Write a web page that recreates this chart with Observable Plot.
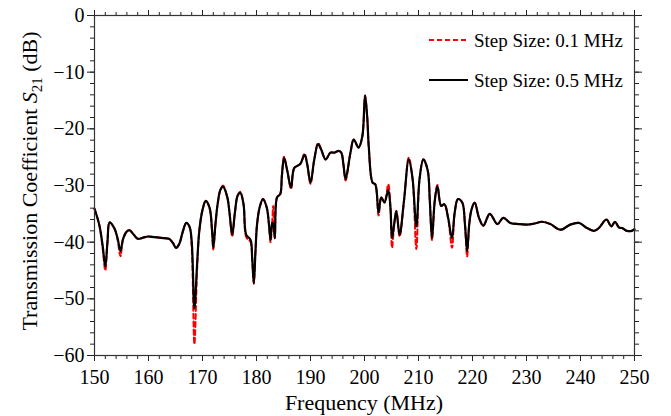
<!DOCTYPE html>
<html><head><meta charset="utf-8">
<script src="https://cdn.jsdelivr.net/npm/d3@7"></script>
<script src="https://cdn.jsdelivr.net/npm/@observablehq/plot@0.6"></script>
<style>
html,body{margin:0;padding:0;background:#fff}
svg, svg text { font-family: "Liberation Serif", "Times New Roman", Times, "DejaVu Serif", serif !important; }
</style>
</head><body><div id="chart"></div>
<script>
// Frequency samples (MHz)
const freq = [
  150,150.9,151.5,152.0,152.4,152.8,153.7,154.3,154.8,155.3,
  156.0,156.5,157.2,158.0,159.0,159.9,161.0,162.0,163.0,163.8,
  164.5,165.1,165.7,166.3,167.0,167.6,168.0,168.5,169.0,169.4,
  170.0,170.6,171.3,171.8,172.0,172.4,172.8,173.3,173.8,174.6,
  175.0,175.5,176.0,176.5,177.0,177.6,178.1,178.9,179.2,179.5,
  179.8,180.1,180.6,181.2,181.9,182.3,182.6,182.9,183.1,183.4,
  183.8,184.4,184.7,185.1,185.7,186.4,187.0,188.1,188.9,189.4,
  190.0,190.7,191.4,192.0,192.8,193.7,194.4,195.2,195.7,196.1,
  196.5,197.4,198.0,198.9,199.6,200.1,200.5,200.8,201.5,202.0,
  202.6,203.1,203.7,204.4,204.8,205.1,205.5,205.9,206.5,207.3,
  208.2,208.9,209.6,210.2,210.9,211.7,212.1,212.5,213.0,213.5,
  214.2,214.8,215.5,216.2,216.7,217.3,218.1,218.6,219.0,219.4,
  219.8,220.4,221.2,222.0,223.2,224.6,225.7,227.0,228.5,230.1,
  231.5,232.9,234.4,236.3,238.1,239.7,241.2,242.5,243.4,244.8,
  245.7,246.4,247.1,247.7,248.6,249.5,250
];
// S21 (dB), step size 0.5 MHz (black solid)
const s21Step05 = [
  -34.1,-37,-40.5,-44.3,-40,-36.5,-37.6,-39.4,-41.6,-39.4,
  -38.1,-37.9,-38.6,-39.4,-39.2,-39.0,-39.1,-39.2,-39.3,-39.4,
  -40.1,-41.0,-40.3,-38.3,-36.6,-37.3,-39.8,-51.7,-43.8,-38.1,
  -34.3,-32.7,-33.9,-38.3,-41.0,-36.8,-33.3,-30.8,-30.2,-32.1,
  -34.8,-38.7,-34.8,-31.8,-31.3,-33.3,-38.7,-39.6,-42.8,-47.3,
  -41.8,-36.9,-33.8,-32.4,-33.9,-36.8,-39.6,-36.6,-36.8,-39.3,
  -32.1,-31.5,-28.3,-25.1,-27.4,-30.4,-26.9,-26.2,-24.6,-26.3,
  -29.5,-25.4,-22.7,-23.7,-25.4,-24.2,-24.2,-23.9,-24.2,-26.3,
  -28.9,-24.2,-21.9,-23.3,-21.3,-14.1,-17.9,-23.3,-29.5,-29.8,
  -34.8,-32.1,-33.0,-30.8,-33.8,-39.3,-36.8,-34.5,-38.7,-32.8,
  -25.4,-28.8,-37.2,-28.8,-25.4,-27.3,-32.8,-39.3,-32.8,-30.1,
  -33.6,-33.3,-35.8,-39.3,-34.8,-32.4,-33.0,-36.8,-41.6,-36.8,
  -34.3,-33.0,-35.7,-37.1,-35.0,-36.8,-35.7,-36.6,-36.8,-36.9,
  -36.7,-36.4,-36.8,-37.8,-36.9,-36.6,-37.5,-38.0,-37.5,-36.0,
  -37.2,-36.4,-37.4,-37.5,-38.0,-38.0,-37.7
];
// S21 (dB), step size 0.1 MHz (red dashed)
const s21Step01 = [
  -34.1,-37,-41.0,-45.0,-40,-36.5,-37.6,-39.7,-42.5,-39.4,
  -38.1,-37.9,-38.6,-39.4,-39.2,-39.0,-39.1,-39.2,-39.3,-39.4,
  -40.1,-41.0,-40.3,-38.3,-36.6,-37.3,-40.8,-58.0,-44.8,-38.1,
  -34.3,-32.7,-33.9,-38.6,-41.3,-36.8,-33.3,-30.8,-30.0,-32.1,
  -34.8,-39.0,-34.8,-31.8,-31.1,-33.3,-39.1,-40.0,-42.8,-47.3,
  -41.8,-36.9,-33.8,-32.4,-33.9,-36.8,-40.0,-36.6,-33.6,-39.3,
  -32.1,-31.5,-28.3,-24.9,-27.4,-30.6,-26.9,-26.2,-24.4,-26.3,
  -29.7,-25.4,-22.5,-23.7,-25.4,-24.2,-24.2,-23.9,-24.2,-26.3,
  -29.1,-24.2,-21.9,-23.3,-21.3,-14.1,-17.9,-23.3,-29.5,-29.8,
  -35.3,-32.1,-33.0,-29.8,-33.8,-41.0,-36.8,-34.5,-39.0,-32.8,
  -25.1,-28.8,-41.2,-28.8,-25.4,-27.3,-32.8,-39.6,-32.8,-29.9,
  -33.6,-33.3,-35.8,-41.0,-34.8,-32.4,-33.0,-36.8,-42.5,-36.8,
  -34.3,-33.0,-35.7,-37.1,-35.0,-36.8,-35.7,-36.6,-36.8,-36.9,
  -36.7,-36.4,-36.8,-37.8,-36.9,-36.6,-37.5,-38.0,-37.5,-36.0,
  -37.2,-36.4,-37.4,-37.5,-38.0,-38.0,-37.7
];
const xTicks = [150,160,170,180,190,200,210,220,230,240,250];
const yTicks = [0,-10,-20,-30,-40,-50,-60];
const xMinor = [150,152,154,156,158,160,162,164,166,168,170,172,174,176,178,180,182,184,186,188,190,192,194,196,198,200,202,204,206,208,210,212,214,216,218,220,222,224,226,228,230,232,234,236,238,240,242,244,246,248,250];
const yMinor = [0,-2,-4,-6,-8,-10,-12,-14,-16,-18,-20,-22,-24,-26,-28,-30,-32,-34,-36,-38,-40,-42,-44,-46,-48,-50,-52,-54,-56,-58,-60];
const seriesNames = ["Step Size: 0.1 MHz", "Step Size: 0.5 MHz"];
const seriesColors = ["#ff0000", "#000000"];
const xTitle = "Frequency (MHz)";

const fine = freq.map((f, i) => ({f, s: s21Step01[i]}));
const coarse = freq.map((f, i) => ({f, s: s21Step05[i]}));
const fmt = d => d < 0 ? "\u2212" + Math.abs(d) : String(d);
const blank = () => "";

const plot = Plot.plot({
  width: 671, height: 416,
  marginLeft: 94, marginRight: 37, marginTop: 15, marginBottom: 61,
  style: {fontSize: "20px", background: "#fff", color: "#222"},
  x: {domain: [150, 250]},
  y: {domain: [-60, 0]},
  marks: [
    Plot.axisX({anchor: "bottom", ticks: xMinor, tickSize: 4, tickFormat: blank, label: null}),
    Plot.axisX({anchor: "bottom", ticks: xTicks, tickSize: 6, tickPadding: 8, tickFormat: d => String(d), label: null, fill: "#000"}),
    Plot.axisX({anchor: "top", ticks: xMinor, tickSize: 4, tickFormat: blank, label: null}),
    Plot.axisX({anchor: "top", ticks: xTicks, tickSize: 6, tickFormat: blank, label: null}),
    Plot.axisY({anchor: "left", ticks: yMinor, tickSize: 4, tickFormat: blank, label: null}),
    Plot.axisY({anchor: "left", ticks: yTicks, tickSize: 7, tickPadding: 3, tickFormat: fmt, label: null, fill: "#000"}),
    Plot.axisY({anchor: "right", ticks: yMinor, tickSize: 4, tickFormat: blank, label: null}),
    Plot.axisY({anchor: "right", ticks: yTicks, tickSize: 7, tickFormat: blank, label: null}),
    Plot.line(fine, {x: "f", y: "s", stroke: seriesColors[0], strokeWidth: 2, strokeDasharray: "5,3", curve: "catmull-rom"}),
    Plot.line(coarse, {x: "f", y: "s", stroke: seriesColors[1], strokeWidth: 2.2, curve: "catmull-rom"}),
    Plot.frame({stroke: "#333", strokeWidth: 1.2})
  ]
});

const svg = d3.select(plot);
// x title
svg.append("text").attr("x", 364).attr("y", 410).attr("text-anchor", "middle")
  .attr("font-size", 22).attr("fill", "#000").text(xTitle);
// y title
const yt = svg.append("text").attr("transform", "translate(37,181) rotate(-90)")
  .attr("text-anchor", "middle").attr("font-size", 22).attr("fill", "#000");
yt.append("tspan").text("Transmission Coefficient ");
yt.append("tspan").attr("font-style", "italic").text("S");
yt.append("tspan").attr("font-size", 15).attr("dy", 5).text("21");
yt.append("tspan").attr("dy", -5).text(" (dB)");
// legend
seriesNames.forEach((name, i) => {
  const y = 40 + i * 40;
  svg.append("line").attr("x1", 429).attr("x2", 468).attr("y1", y).attr("y2", y)
    .attr("stroke", seriesColors[i]).attr("stroke-width", 2.2)
    .attr("stroke-dasharray", i === 0 ? "5,3" : null);
  svg.append("text").attr("x", 474).attr("y", y).attr("dy", "0.35em")
    .attr("text-anchor", "start")
    .attr("font-size", 19).attr("fill", "#000").text(name);
});
document.getElementById("chart").appendChild(plot);
</script>
</body></html>
